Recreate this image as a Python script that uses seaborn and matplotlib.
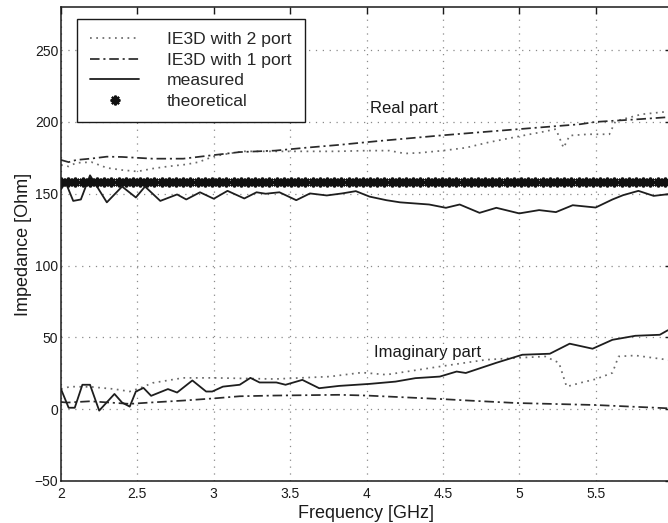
import numpy as np
import pandas as pd
import matplotlib
matplotlib.use("Agg")
import matplotlib.pyplot as plt
import seaborn as sns
from matplotlib.lines import Line2D

# ---------------- data ----------------
# Real part, IE3D with 2 ports (dotted)
re2_f = [2.00, 2.05, 2.10, 2.20, 2.30, 2.40, 2.50, 2.60, 2.70, 2.82, 2.90, 3.00, 3.10, 3.20,
         3.40, 3.60, 3.80, 4.00, 4.15, 4.25, 4.35, 4.50, 4.65, 4.80, 5.00, 5.15, 5.24, 5.29,
         5.33, 5.45, 5.59, 5.63, 5.80, 6.00]
re2_v = [170.0, 169.0, 171.5, 172.0, 168.0, 166.5, 165.5, 167.5, 169.0, 170.4, 172.0, 176.0,
         178.0, 179.5, 179.5, 179.5, 179.5, 180.0, 180.0, 178.0, 178.5, 180.0, 182.0, 185.8,
         190.0, 193.0, 195.0, 182.0, 190.5, 191.4, 191.4, 200.5, 205.3, 207.5]

# Real part, IE3D with 1 port (dash-dot)
re1_f = [2.00, 2.05, 2.10, 2.20, 2.30, 2.40, 2.50, 2.60, 2.80, 2.95, 3.17, 3.40, 3.60, 3.82,
         4.08, 4.50, 5.00, 5.40, 5.50, 5.80, 6.00]
re1_v = [173.5, 172.0, 173.5, 174.5, 175.8, 175.6, 175.0, 174.4, 174.4, 176.3, 179.0, 180.0,
         182.0, 184.0, 186.7, 190.7, 195.0, 198.4, 200.0, 202.0, 203.5]

# Real part, measured (solid)
rem_f = [2.00, 2.03, 2.08, 2.13, 2.19, 2.30, 2.40, 2.49, 2.55, 2.65, 2.76, 2.82, 2.91, 3.00,
         3.09, 3.20, 3.28, 3.34, 3.43, 3.54, 3.63, 3.74, 3.84, 3.93, 4.02, 4.13, 4.22, 4.41,
         4.52, 4.61, 4.74, 4.85, 5.00, 5.13, 5.24, 5.35, 5.50, 5.61, 5.68, 5.78, 5.88, 6.00]
rem_v = [153.0, 158.0, 145.0, 146.0, 162.8, 144.0, 155.0, 147.4, 155.0, 145.0, 149.5, 146.0,
         151.0, 146.5, 152.0, 146.7, 151.0, 150.0, 151.0, 145.5, 150.2, 148.8, 150.2, 151.8,
         148.0, 145.5, 144.0, 142.5, 140.2, 142.5, 136.7, 140.2, 136.3, 138.6, 137.2, 142.0,
         140.4, 146.0, 149.0, 152.0, 148.5, 150.0]

# Theoretical (constant)
theo_value = 158.0
theo_count = 86

# Imaginary part, IE3D with 2 ports (dotted)
im2_f = [2.00, 2.06, 2.20, 2.35, 2.45, 2.52, 2.60, 2.80, 3.00, 3.40, 3.76, 3.97, 4.13, 4.48,
         4.78, 4.98, 5.17, 5.26, 5.31, 5.41, 5.50, 5.61, 5.65, 5.76, 5.97, 6.00]
im2_v = [14.0, 15.7, 15.5, 14.0, 12.3, 14.8, 18.3, 21.8, 21.8, 21.0, 22.7, 25.5, 24.0, 29.7,
         34.4, 35.7, 36.7, 32.3, 15.7, 18.6, 20.9, 25.3, 36.7, 37.4, 34.4, 34.0]

# Imaginary part, IE3D with 1 port (dash-dot)
im1_f = [2.00, 2.04, 2.19, 2.45, 2.58, 2.80, 3.00, 3.17, 3.40, 3.82, 4.00, 4.30, 4.50, 4.67,
         4.98, 5.50, 6.00]
im1_v = [5.0, 4.6, 5.5, 3.7, 4.6, 6.0, 7.5, 9.0, 9.5, 10.0, 9.5, 8.0, 7.0, 6.0, 4.3, 2.9, 0.5]

# Imaginary part, measured (solid)
imm_f = [2.00, 2.05, 2.09, 2.14, 2.19, 2.25, 2.35, 2.40, 2.45, 2.49, 2.54, 2.59, 2.70, 2.76,
         2.86, 2.95, 2.99, 3.06, 3.17, 3.24, 3.30, 3.41, 3.47, 3.58, 3.69, 3.82, 4.02, 4.19,
         4.32, 4.48, 4.59, 4.65, 4.85, 5.02, 5.20, 5.33, 5.48, 5.61, 5.76, 5.92, 5.97, 6.00]
imm_v = [14.0, 1.0, 1.0, 17.0, 17.0, -1.0, 10.6, 4.6, 1.8, 12.3, 14.8, 9.3, 14.0, 11.6, 20.0,
         12.3, 12.3, 15.7, 17.0, 21.8, 18.6, 18.6, 17.0, 20.4, 14.6, 16.2, 17.6, 19.2, 21.6,
         22.7, 26.2, 25.2, 32.3, 37.9, 38.6, 45.6, 42.1, 48.3, 51.1, 51.8, 54.8, 56.0]

legend_labels = ["IE3D with 2 port", "IE3D with 1 port", "measured", "theoretical"]
x_ticks = [2, 2.5, 3, 3.5, 4, 4.5, 5, 5.5, 6]
x_tick_labels = ["2", "2.5", "3", "3.5", "4", "4.5", "5", "5.5", ""]  # "6" falls outside the crop
y_ticks = [-50, 0, 50, 100, 150, 200, 250]

# ---------------- style ----------------
sns.set_theme(style="white")
plt.rcParams["font.family"] = ["Liberation Sans", "DejaVu Sans"]
plt.rcParams["axes.unicode_minus"] = True

W, H = 668, 523
fig = plt.figure(figsize=(W / 100, H / 100), dpi=100)
ax = fig.add_axes([61 / W, 42 / H, 611 / W, 474 / H])

dot_style = dict(color="#6a6a6a", lw=1.25, dashes=(1, 2.6))
dashdot_style = dict(color="#2a2a2a", lw=1.25, dashes=(5.5, 2.2, 1.2, 2.2))
solid_style = dict(color="#1e1e1e", lw=1.3)

def draw(f, v, style):
    sns.lineplot(x=f, y=v, ax=ax, sort=False, estimator=None, legend=False, **style)

draw(re2_f, re2_v, dot_style)
draw(re1_f, re1_v, dashdot_style)
draw(rem_f, rem_v, solid_style)
draw(im2_f, im2_v, dot_style)
draw(im1_f, im1_v, dashdot_style)
draw(imm_f, imm_v, solid_style)

theo_f = np.linspace(2, 6, theo_count)
theo_v = np.full(theo_count, theo_value)
sns.lineplot(x=theo_f, y=theo_v, ax=ax, estimator=None, legend=False, linestyle="none",
             marker=(8, 2, 0), markersize=7, markeredgewidth=1.6,
             color="#111111", markeredgecolor="#111111")

ax.set_xlim(2, 6)
ax.set_ylim(-50, 280)
ax.set_xticks(x_ticks)
ax.set_xticklabels(x_tick_labels)
ax.set_yticks(y_ticks)
ax.set_yticklabels([f"{t:g}".replace("-", "\u2212") for t in y_ticks])

ax.grid(True, color="#8a8a8a", linestyle=(0, (1, 4.5)), linewidth=0.9)
ax.tick_params(direction="in", length=5, width=1, top=True, right=True,
               labelsize=10, colors="#1a1a1a", pad=4)
ax.tick_params(axis="y", pad=2)
for s in ax.spines.values():
    s.set_color("#1a1a1a")
    s.set_linewidth(1.1)

ax.set_xlabel("Frequency [GHz]", fontsize=13, color="#1a1a1a", labelpad=3)
ax.set_ylabel("Impedance [Ohm]", fontsize=13, color="#1a1a1a", labelpad=2)

ax.text(4.02, 209, "Real part", fontsize=12, va="center", ha="left", color="#1a1a1a")
ax.text(4.05, 39.5, "Imaginary part", fontsize=12, va="center", ha="left", color="#1a1a1a")

handles = [
    Line2D([], [], **dot_style),
    Line2D([], [], **dashdot_style),
    Line2D([], [], **solid_style),
    Line2D([], [], linestyle="none", marker=(8, 2, 0), markersize=7, markeredgewidth=1.6,
           color="#111111"),
]
leg = ax.legend(handles, legend_labels, loc="upper left",
                bbox_to_anchor=((77 - 61) / 611, (481 - 19) / 474),
                borderaxespad=0, fontsize=12.6, handlelength=2.8, handletextpad=1.6,
                labelspacing=0.3, borderpad=0.75, fancybox=False, framealpha=1,
                edgecolor="#1a1a1a")
leg.get_frame().set_linewidth(1.0)

fig.savefig("out.png", dpi=100, facecolor="white")
